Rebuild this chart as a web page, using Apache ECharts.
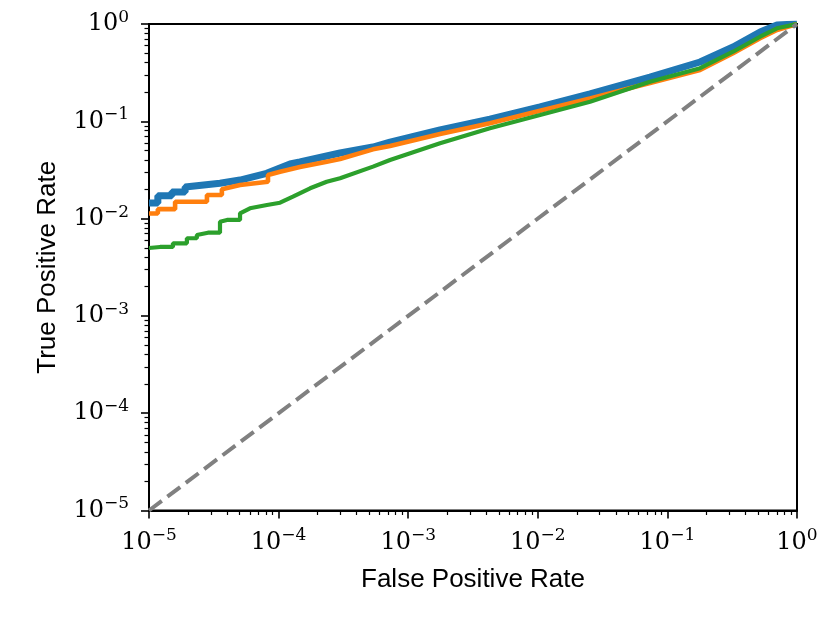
<!DOCTYPE html>
<html>
<head>
<meta charset="utf-8">
<script src="https://cdn.jsdelivr.net/npm/echarts@6.0.0/dist/echarts.min.js"></script>
<style>
html,body{margin:0;padding:0;background:#fff;}
#chart{width:830px;height:623px;}
</style>
</head>
<body>
<div id="chart"></div>
<script>
// ---- data ----
const decades = [-5, -4, -3, -2, -1, 0];
const blueFpr = [1e-5, 1.17e-5, 1.17e-5, 1.50e-5, 1.50e-5, 1.90e-5, 1.90e-5, 3.53e-5, 5.04e-5, 8.09e-5, 1.225e-4, 1.46e-4, 2.35e-4, 2.98e-4, 5.35e-4, 7.24e-4, 1.76e-3, 4.27e-3, 0.0104, 0.0253, 0.0734, 0.1786, 0.321, 0.519, 0.701, 1];
const blueTpr = [0.0145, 0.0145, 0.0172, 0.0172, 0.0188, 0.0188, 0.0211, 0.0231, 0.0249, 0.0292, 0.0364, 0.0382, 0.0440, 0.0472, 0.0544, 0.0612, 0.0814, 0.105, 0.141, 0.191, 0.285, 0.407, 0.580, 0.828, 0.976, 1];
const orangeFpr = [1e-5, 1.17e-5, 1.17e-5, 1.59e-5, 1.59e-5, 2.80e-5, 2.80e-5, 3.65e-5, 3.65e-5, 5.04e-5, 8.28e-5, 8.28e-5, 1.026e-4, 1.46e-4, 2.35e-4, 2.98e-4, 5.35e-4, 7.24e-4, 1.76e-3, 4.27e-3, 0.0104, 0.0253, 0.0734, 0.1786, 0.321, 0.519, 0.701, 1];
const orangeTpr = [0.0113, 0.0113, 0.0125, 0.0125, 0.0149, 0.0149, 0.0175, 0.0175, 0.0200, 0.0221, 0.0239, 0.0281, 0.0303, 0.0339, 0.0385, 0.0410, 0.0515, 0.0557, 0.0740, 0.0953, 0.1285, 0.172, 0.248, 0.337, 0.500, 0.713, 0.868, 1];
const greenFpr = [1e-5, 1.216e-5, 1.53e-5, 1.53e-5, 1.96e-5, 1.96e-5, 2.34e-5, 2.34e-5, 2.85e-5, 3.53e-5, 3.53e-5, 4.00e-5, 5.04e-5, 5.04e-5, 6.01e-5, 8.13e-5, 1.026e-4, 1.29e-4, 1.75e-4, 2.35e-4, 2.98e-4, 5.35e-4, 7.24e-4, 1.76e-3, 4.27e-3, 0.0104, 0.0253, 0.0734, 0.1786, 0.321, 0.519, 0.701, 1];
const greenTpr = [0.00499, 0.00511, 0.00511, 0.00557, 0.00557, 0.00628, 0.00628, 0.00678, 0.00716, 0.00716, 0.00929, 0.00968, 0.00968, 0.01133, 0.01276, 0.0138, 0.01457, 0.0168, 0.0205, 0.0239, 0.0260, 0.0342, 0.0400, 0.0594, 0.0847, 0.116, 0.159, 0.255, 0.351, 0.519, 0.740, 0.903, 1];
const chanceFpr = [1e-5, 1];
const chanceTpr = [1e-5, 1];

// ---- build ----
const pairs = (xs, ys) => xs.map((x, i) => [x, ys[i]]);
const minorPos = [];
decades.slice(0, -1).forEach(d => { for (let k = 2; k <= 9; k++) minorPos.push(d + Math.log10(k)); });

const serif = 'DejaVu Serif';
const sans = 'Liberation Sans';
const rich = {
  b: { fontFamily: serif, fontSize: 24, lineHeight: 30, color: '#000' },
  s: { fontFamily: serif, fontSize: 17, lineHeight: 18, verticalAlign: 'top', color: '#000' }
};
const fmt = v => {
  const e = Math.round(Math.log10(v));
  return '{b|10}{s|' + (e < 0 ? '\u2212' + (-e) : String(e)) + '}';
};

const chart = echarts.init(document.getElementById('chart'), null, { renderer: 'canvas' });
chart.setOption({
  animation: false,
  backgroundColor: '#fff',
  grid: { left: 149, right: 33, top: 24, bottom: 112.5, show: true, borderColor: '#000', borderWidth: 2, backgroundColor: 'transparent' },
  xAxis: [
    {
      type: 'log', logBase: 10, min: 1e-5, max: 1, splitNumber: 5,
      axisLine: { onZero: false, lineStyle: { color: '#000', width: 2 } },
      axisTick: { length: 8, lineStyle: { color: '#000', width: 1.6 } },
      axisLabel: { margin: 17, formatter: fmt, rich: rich, showMinLabel: true, showMaxLabel: true },
      splitLine: { show: false },
      name: 'False Positive Rate', nameLocation: 'middle', nameGap: 56,
      nameTextStyle: { fontFamily: sans, fontSize: 26, color: '#000' }
    },
    {
      type: 'value', min: -5, max: 0, position: 'bottom',
      axisLine: { show: false, onZero: false },
      axisTick: { show: true, length: 4.5, customValues: minorPos, lineStyle: { color: '#000', width: 1.2 } },
      axisLabel: { show: false },
      splitLine: { show: false }
    }
  ],
  yAxis: [
    {
      type: 'log', logBase: 10, min: 1e-5, max: 1, splitNumber: 5,
      axisLine: { onZero: false, lineStyle: { color: '#000', width: 2 } },
      axisTick: { length: 8, lineStyle: { color: '#000', width: 1.6 } },
      axisLabel: { margin: 20, formatter: fmt, rich: rich, showMinLabel: true, showMaxLabel: true },
      splitLine: { show: false },
      name: 'True Positive Rate', nameLocation: 'middle', nameGap: 88,
      nameTextStyle: { fontFamily: sans, fontSize: 26, color: '#000' }
    },
    {
      type: 'value', min: -5, max: 0, position: 'left',
      axisLine: { show: false, onZero: false },
      axisTick: { show: true, length: 4.5, customValues: minorPos, lineStyle: { color: '#000', width: 1.2 } },
      axisLabel: { show: false },
      splitLine: { show: false }
    }
  ],
  series: [
    { type: 'line', data: pairs(blueFpr, blueTpr), showSymbol: false, lineStyle: { color: '#1f77b4', width: 7 }, itemStyle: { color: '#1f77b4' }, z: 2 },
    { type: 'line', data: pairs(orangeFpr, orangeTpr), showSymbol: false, lineStyle: { color: '#ff7f0e', width: 4.6 }, itemStyle: { color: '#ff7f0e' }, z: 3 },
    { type: 'line', data: pairs(greenFpr, greenTpr), showSymbol: false, lineStyle: { color: '#2ca02c', width: 4.2 }, itemStyle: { color: '#2ca02c' }, z: 4 },
    { type: 'line', data: pairs(chanceFpr, chanceTpr), showSymbol: false, lineStyle: { color: '#808080', width: 4, type: [16, 7] }, itemStyle: { color: '#808080' }, z: 5 }
  ]
});
</script>
</body>
</html>
